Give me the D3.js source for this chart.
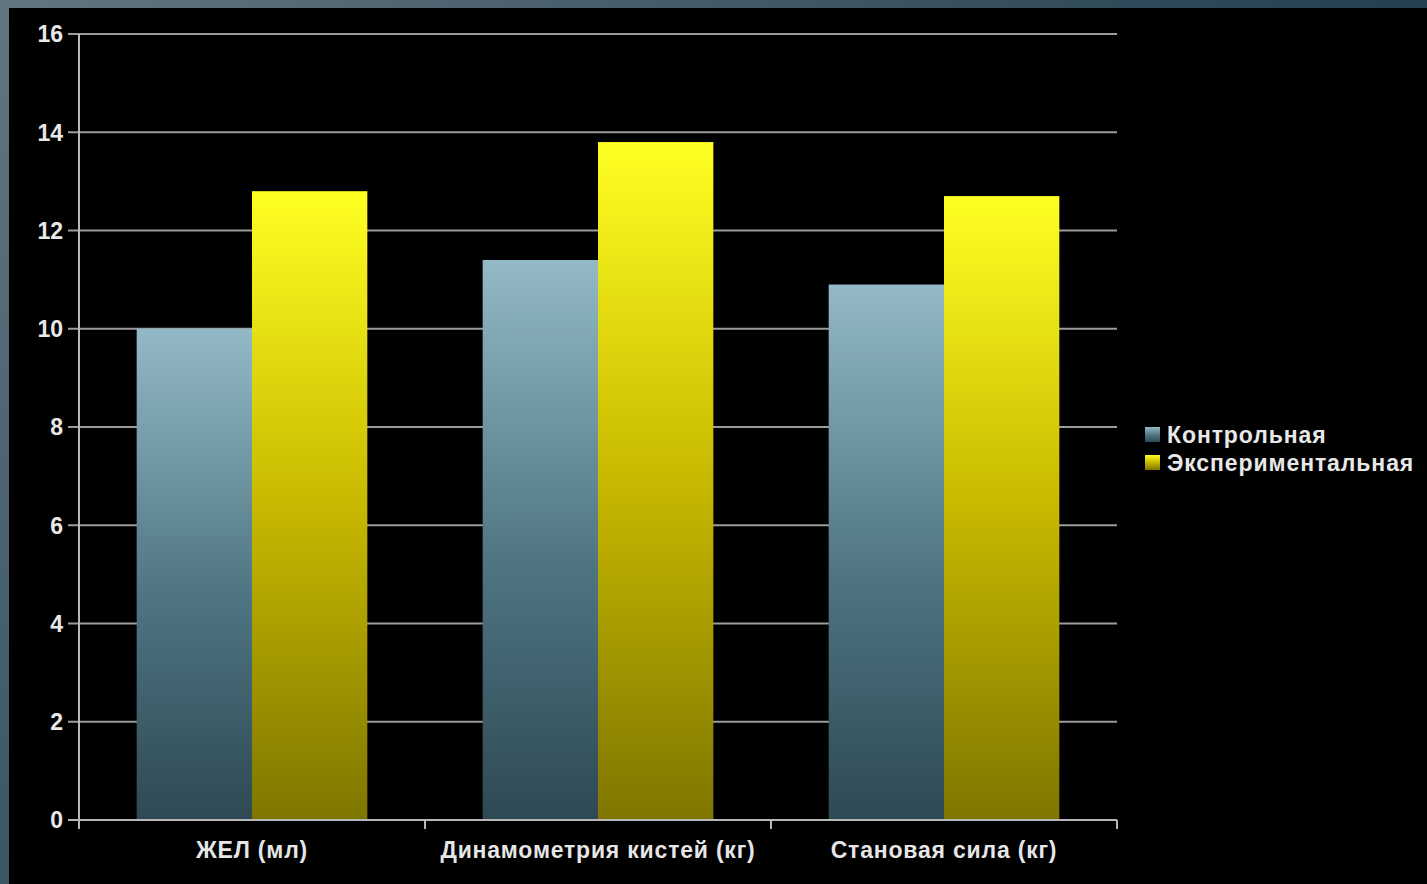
<!DOCTYPE html>
<html>
<head>
<meta charset="utf-8">
<script src="https://cdn.jsdelivr.net/npm/d3@7"></script>
<style>
  html, body { margin: 0; padding: 0; background: #000; overflow: hidden; }
  text { font-family: "Liberation Sans", Arial, sans-serif; }
</style>
</head>
<body>
<div id="chart"></div>
<script>
// данные
const categories = ['ЖЕЛ (мл)', 'Динамометрия кистей (кг)', 'Становая сила (кг)'];
const seriesNames = ['Контрольная', 'Экспериментальная'];
const controlValues = [10.0, 11.4, 10.9];
const experimentalValues = [12.8, 13.8, 12.7];
const yTicks = [0, 2, 4, 6, 8, 10, 12, 14, 16];

const W = 1427, H = 884;
const margin = { top: 34, right: 310, bottom: 64, left: 79 };
const w = W - margin.left - margin.right;
const h = H - margin.top - margin.bottom;

const svg = d3.select('#chart').append('svg')
  .attr('width', W).attr('height', H);

const defs = svg.append('defs');

// рамка слайда
const gTop = defs.append('linearGradient').attr('id', 'frameTop')
  .attr('x1', 0).attr('x2', 1).attr('y1', 0).attr('y2', 0);
gTop.append('stop').attr('offset', '0%').attr('stop-color', '#63757f');
gTop.append('stop').attr('offset', '100%').attr('stop-color', '#243f4f');
const gLeft = defs.append('linearGradient').attr('id', 'frameLeft')
  .attr('x1', 0).attr('x2', 0).attr('y1', 0).attr('y2', 1);
gLeft.append('stop').attr('offset', '0%').attr('stop-color', '#63757f');
gLeft.append('stop').attr('offset', '100%').attr('stop-color', '#3a5664');

const gCtrl = defs.append('linearGradient').attr('id', 'gradCtrl')
  .attr('x1', 0).attr('x2', 0).attr('y1', 0).attr('y2', 1);
gCtrl.append('stop').attr('offset', '0%').attr('stop-color', '#92b9c5');
gCtrl.append('stop').attr('offset', '55%').attr('stop-color', '#4e7482');
gCtrl.append('stop').attr('offset', '100%').attr('stop-color', '#2e4953');
const gExp = defs.append('linearGradient').attr('id', 'gradExp')
  .attr('x1', 0).attr('x2', 0).attr('y1', 0).attr('y2', 1);
gExp.append('stop').attr('offset', '0%').attr('stop-color', '#ffff22');
gExp.append('stop').attr('offset', '50%').attr('stop-color', '#c8b800');
gExp.append('stop').attr('offset', '100%').attr('stop-color', '#7e7600');

svg.append('rect').attr('width', W).attr('height', H).attr('fill', '#000');
svg.append('rect').attr('width', W).attr('height', 8).attr('fill', 'url(#frameTop)');
svg.append('rect').attr('width', 9).attr('height', H).attr('fill', 'url(#frameLeft)');

const g = svg.append('g').attr('transform', `translate(${margin.left},${margin.top})`);

const y = d3.scaleLinear().domain([0, 16]).range([h, 0]);
const x0 = d3.scaleBand().domain(categories).range([0, w]).paddingInner(0).paddingOuter(0);
const x1 = d3.scaleBand().domain(seriesNames).range([0, x0.bandwidth()]).paddingOuter(0.5);

// сетка
g.selectAll('.grid').data(yTicks.filter(d => d > 0)).join('line')
  .attr('x1', -11).attr('x2', w)
  .attr('y1', d => y(d)).attr('y2', d => y(d))
  .attr('stroke', '#9c9c9c').attr('stroke-width', 2);

// столбцы
const series = [
  { name: seriesNames[0], values: controlValues, fill: 'url(#gradCtrl)' },
  { name: seriesNames[1], values: experimentalValues, fill: 'url(#gradExp)' },
];
series.forEach(s => {
  g.selectAll(null).data(categories).join('rect')
    .attr('x', (c) => x0(c) + x1(s.name))
    .attr('width', x1.bandwidth())
    .attr('y', (c, i) => y(s.values[i]))
    .attr('height', (c, i) => h - y(s.values[i]))
    .attr('fill', s.fill);
});

// ось Y
g.append('line').attr('x1', 0).attr('x2', 0).attr('y1', 0).attr('y2', h + 9)
  .attr('stroke', '#b8b8b8').attr('stroke-width', 2);
g.append('line').attr('x1', -11).attr('x2', w).attr('y1', h).attr('y2', h)
  .attr('stroke', '#b8b8b8').attr('stroke-width', 2);
g.selectAll('.ytl').data(yTicks).join('text')
  .attr('x', -16).attr('y', d => y(d)).attr('dy', '0.36em')
  .attr('text-anchor', 'end').attr('font-size', 23).attr('font-weight', 'bold')
  .attr('fill', '#e8e8e8').text(d => d);

// ось X
g.selectAll('.xt').data(categories).join('line')
  .attr('x1', c => x0(c) + x0.bandwidth()).attr('x2', c => x0(c) + x0.bandwidth())
  .attr('y1', h).attr('y2', h + 9)
  .attr('stroke', '#b8b8b8').attr('stroke-width', 2);
g.selectAll('.xl').data(categories).join('text')
  .attr('x', c => x0(c) + x0.bandwidth() / 2).attr('y', h + 38)
  .attr('text-anchor', 'middle').attr('font-size', 23).attr('font-weight', 'bold')
  .attr('letter-spacing', 0.8)
  .attr('fill', '#e6e6e6').text(c => c);

// легенда
const legend = svg.append('g').attr('transform', 'translate(1145,427)');
series.forEach((s, i) => {
  const row = legend.append('g').attr('transform', `translate(0,${i * 28})`);
  row.append('rect').attr('width', 15).attr('height', 15).attr('fill', s.fill);
  row.append('text').attr('x', 22).attr('y', 8).attr('dy', '0.36em')
    .attr('font-size', 23).attr('font-weight', 'bold').attr('letter-spacing', 0.9)
    .attr('fill', '#e8e8e8').text(s.name);
});
</script>
</body>
</html>
